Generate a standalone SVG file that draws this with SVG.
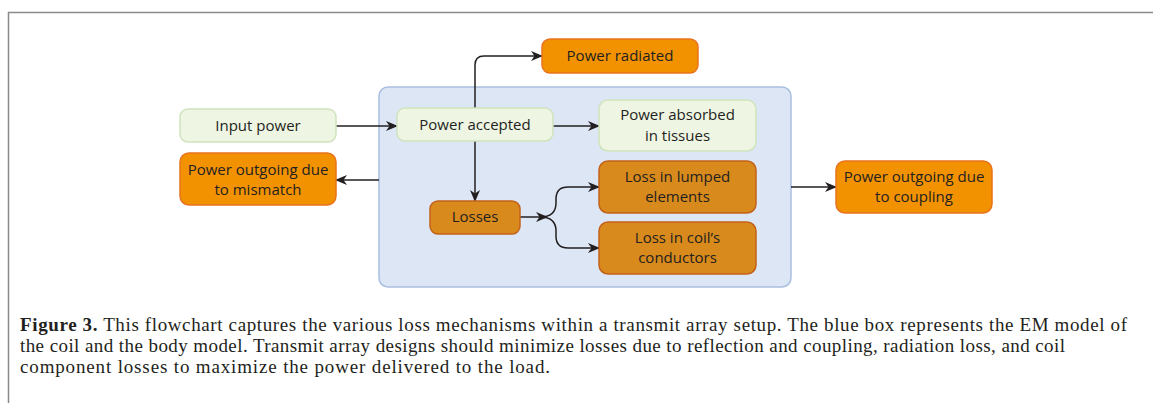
<svg xmlns="http://www.w3.org/2000/svg" width="1153" height="403" viewBox="0 0 1153 403">
<style>
.t{font-family:"Open Sans","Liberation Sans",sans-serif;font-size:15px;fill:#231f20;text-anchor:middle}
.g{fill:#eef5e3;stroke:#cfe3bd;stroke-width:1.5}
.o{fill:#f39200;stroke:#e8731c;stroke-width:1.5}
.d{fill:#d98a1c;stroke:#c2621a;stroke-width:1.5}
.c{fill:none;stroke:#231f20;stroke-width:1.5}
.cap{font-family:"Liberation Serif",serif;font-size:19px;fill:#231f20}
</style>
<defs>
<marker id="ah" viewBox="0 0 12 10" refX="11" refY="5" markerWidth="12" markerHeight="10" markerUnits="userSpaceOnUse" orient="auto">
<path d="M0,0 L12,5 L0,10 L3.5,5 z" fill="#231f20"/>
</marker>
</defs>
<rect width="1153" height="403" fill="#ffffff"/>
<path d="M8.5,403 L8.5,12.5 L1153,12.5" fill="none" stroke="#8a8a8a" stroke-width="1.5"/>
<g id="blue-box"><rect x="379" y="87" width="412" height="200" rx="9" fill="#dce6f5" stroke="#a9bfe0" stroke-width="1.5"/></g>
<g id="connectors">
<path class="c" d="M336,126 L397,126" marker-end="url(#ah)"/>
<path class="c" d="M379,180 L336,180" marker-end="url(#ah)"/>
<path class="c" d="M475,108 L475,65 Q475,56 484,56 L542,56" marker-end="url(#ah)"/>
<path class="c" d="M553,126 L599,126" marker-end="url(#ah)"/>
<path class="c" d="M475,141 L475,201" marker-end="url(#ah)"/>
<path class="c" d="M520,217 L547,217" marker-end="url(#ah)"/>
<path class="c" d="M540,217 Q556,217 556,203 L556,199 Q556,187 568,187 L599,187" marker-end="url(#ah)"/>
<path class="c" d="M540,217 Q556,217 556,231 L556,236 Q556,248 568,248 L599,248" marker-end="url(#ah)"/>
<path class="c" d="M791,187 L836,187" marker-end="url(#ah)"/>
</g>
<g id="input-power"><rect class="g" x="180" y="109" width="156" height="33" rx="8"/><text class="t" x="258" y="131">Input power</text></g>
<g id="mismatch"><rect class="o" x="180" y="153" width="156" height="52" rx="9"/><text class="t" x="258" y="175">Power outgoing due</text><text class="t" x="258" y="195">to mismatch</text></g>
<g id="power-accepted"><rect class="g" x="397" y="108" width="156" height="33" rx="8"/><text class="t" x="475" y="130">Power accepted</text></g>
<g id="power-radiated"><rect class="o" x="542" y="39" width="156" height="34" rx="8"/><text class="t" x="620" y="61">Power radiated</text></g>
<g id="power-absorbed"><rect class="g" x="599" y="100" width="157" height="51" rx="9"/><text class="t" x="677.5" y="120">Power absorbed</text><text class="t" x="677.5" y="141">in tissues</text></g>
<g id="losses"><rect class="d" x="430" y="201" width="90" height="33" rx="8"/><text class="t" x="475" y="222">Losses</text></g>
<g id="loss-lumped"><rect class="d" x="599" y="161" width="157" height="52" rx="9"/><text class="t" x="677.5" y="182">Loss in lumped</text><text class="t" x="677.5" y="202">elements</text></g>
<g id="loss-coil"><rect class="d" x="599" y="222" width="157" height="52" rx="9"/><text class="t" x="677.5" y="243">Loss in coil’s</text><text class="t" x="677.5" y="263">conductors</text></g>
<g id="coupling"><rect class="o" x="836" y="161" width="156" height="52" rx="9"/><text class="t" x="914" y="182">Power outgoing due</text><text class="t" x="914" y="202">to coupling</text></g>
<g id="caption">
<text class="cap" x="20" y="331" textLength="1107" lengthAdjust="spacing"><tspan font-weight="bold">Figure 3.</tspan> This flowchart captures the various loss mechanisms within a transmit array setup. The blue box represents the EM model of</text>
<text class="cap" x="20" y="352" textLength="1045" lengthAdjust="spacing">the coil and the body model. Transmit array designs should minimize losses due to reflection and coupling, radiation loss, and coil</text>
<text class="cap" x="20" y="373" textLength="530" lengthAdjust="spacing">component losses to maximize the power delivered to the load.</text>
</g>
</svg>
